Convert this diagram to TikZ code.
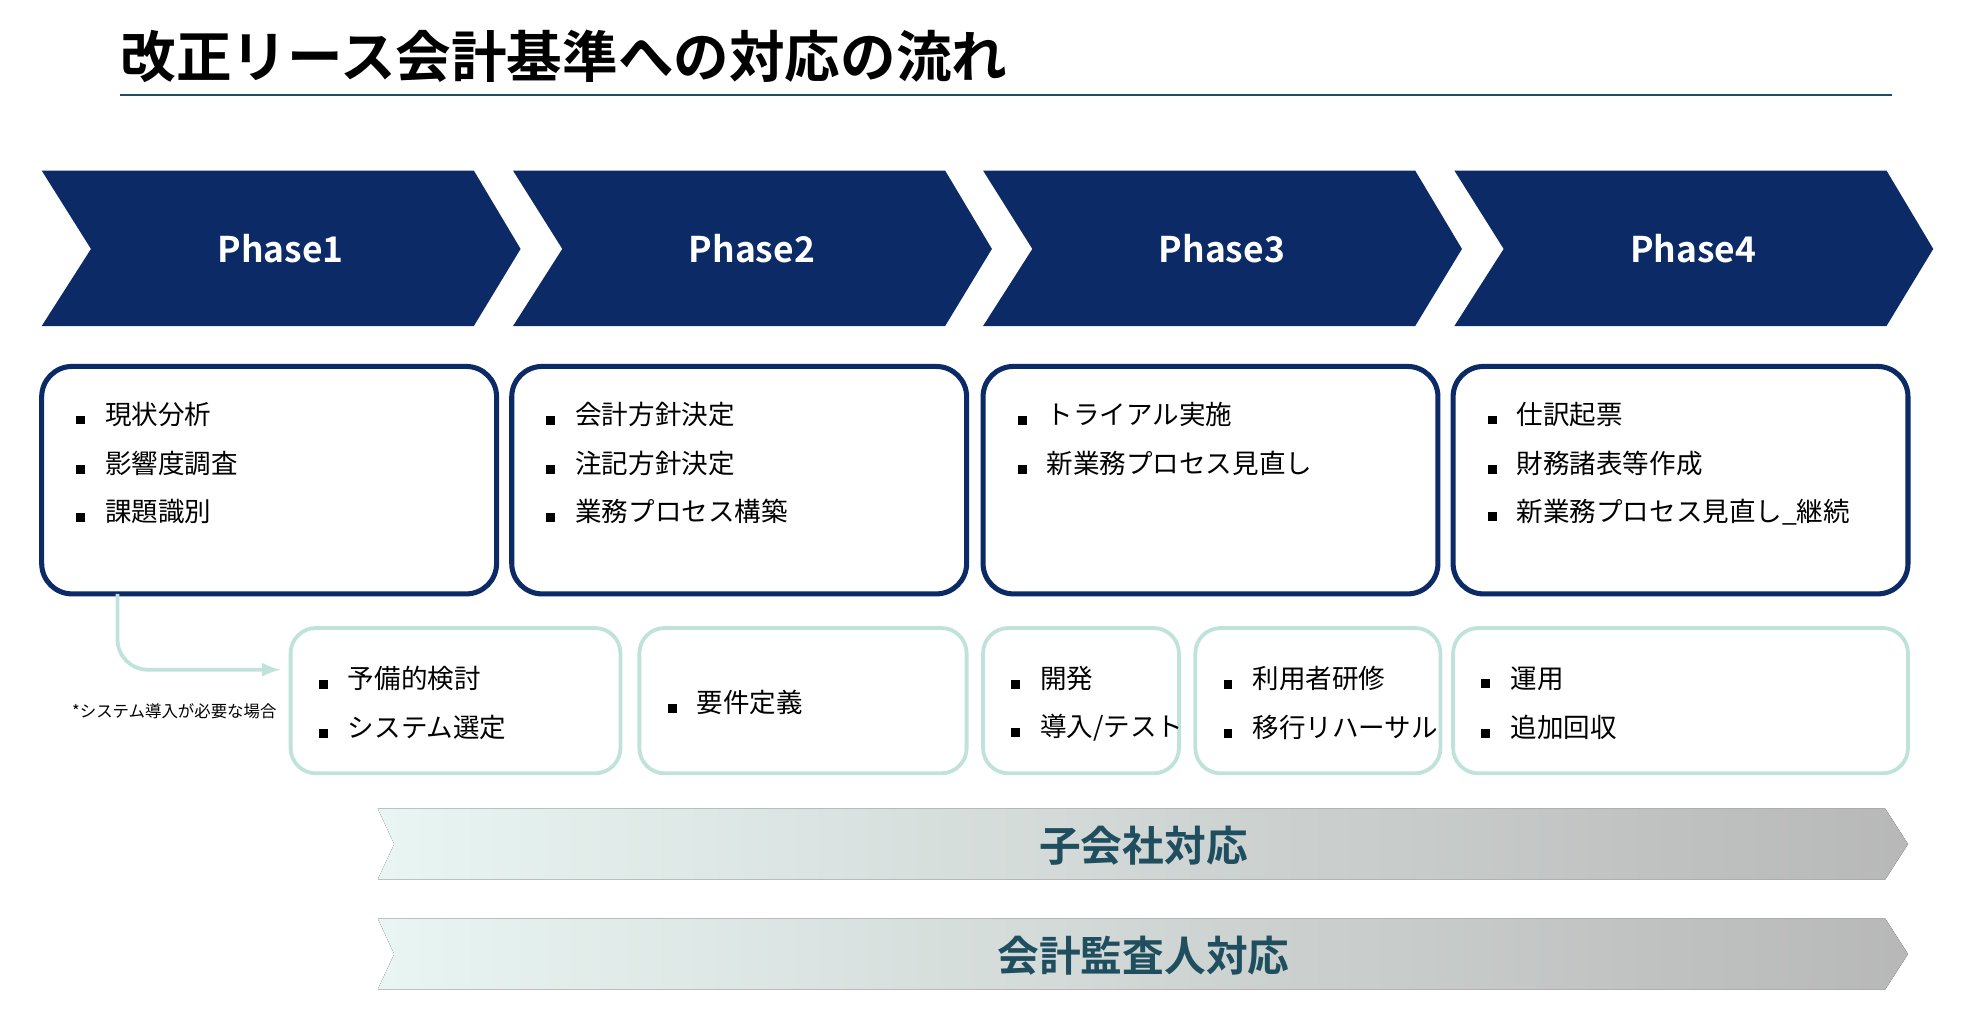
\documentclass[tikz,border=0pt]{standalone}
\usepackage{fontspec}
\setmainfont{Noto Sans CJK JP}[BoldFont={* Bold}]
\usetikzlibrary{positioning}
\definecolor{navy}{HTML}{0B2A66}
\definecolor{mint}{HTML}{BFE3DA}
\definecolor{teal}{HTML}{1F4E5F}
\tikzset{
  phase/.style={fill=navy,draw=none},
  mainbox/.style={draw=navy,line width=2pt,rounded corners=12pt,fill=white},
  subbox/.style={draw=mint,line width=1.5pt,rounded corners=10pt,fill=white},
  item/.style={anchor=west,font=\fontsize{10.5}{12}\selectfont,inner sep=0pt},
  banner/.style={left color=mint!35,right color=black!28,draw=none},
}
\newcommand{\sq}{\rule{3.5pt}{3.5pt}\hspace{8pt}}
\begin{document}
\begin{tikzpicture}[x=0.5pt,y=-0.5pt]
\useasboundingbox (0,0) rectangle (1567,800);

% title
\node[anchor=west,font=\bfseries\fontsize{22}{24}\selectfont,inner sep=0pt] (title) at (95,45) {改正リース会計基準への対応の流れ};
\draw[teal,line width=1pt] (95,75) -- (1497,75);

% phases
\foreach \i/\x in {1/33,2/406,3/778,4/1151}{
  \fill[phase] (\x,135) -- (\x+342,135) -- (\x+379,197) -- (\x+342,258) -- (\x,258) -- (\x+39,197) -- cycle;
  \node[white,font=\bfseries\fontsize{14}{16}\selectfont] (ph\i) at (\x+189,197) {Phase\i};
}

% main boxes
\foreach \i/\x in {1/33,2/405,3/778,4/1150}
  \draw[mainbox] (\x,290) rectangle (\x+360,470);

\node[item] (a1) at (60,328) {\sq 現状分析};
\node[item] (a2) at (60,367) {\sq 影響度調査};
\node[item] (a3) at (60,405) {\sq 課題識別};
\node[item] (b1) at (432,328) {\sq 会計方針決定};
\node[item] (b2) at (432,367) {\sq 注記方針決定};
\node[item] (b3) at (432,405) {\sq 業務プロセス構築};
\node[item] (c1) at (805,328) {\sq トライアル実施};
\node[item] (c2) at (805,367) {\sq 新業務プロセス見直し};
\node[item] (d1) at (1177,328) {\sq 仕訳起票};
\node[item] (d2) at (1177,367) {\sq 財務諸表等作成};
\node[item] (d3) at (1177,405) {\sq 新業務プロセス見直し\_継続};

% sub boxes
\draw[subbox] (230,497) rectangle (491,612);
\draw[subbox] (506,497) rectangle (765,612);
\draw[subbox] (778,497) rectangle (933,612);
\draw[subbox] (946,497) rectangle (1140,612);
\draw[subbox] (1150,497) rectangle (1510,612);

\node[item] (s1) at (252,537) {\sq 予備的検討};
\node[item] (s2) at (252,576) {\sq システム選定};
\node[item] (r1) at (528,556) {\sq 要件定義};
\node[item] (t1) at (800,537) {\sq 開発};
\node[item] (t2) at (800,576) {\sq 導入/テスト};
\node[item] (u1) at (968,537) {\sq 利用者研修};
\node[item] (u2) at (968,576) {\sq 移行リハーサル};
\node[item] (v1) at (1172,537) {\sq 運用};
\node[item] (v2) at (1172,576) {\sq 追加回収};

% optional path
\coordinate (from) at (93,470);
\coordinate (to) at (222,530);
\draw[mint,line width=1.5pt,rounded corners=12pt,-latex] (from) |- (to);
\node[font=\fontsize{6.5}{8}\selectfont] (note) at (138,563) {*システム導入が必要な場合};

% banners
\foreach \y/\t in {640/子会社対応,727/会計監査人対応}{
  \fill[banner] (299,\y) -- (1492,\y) -- (1510,\y+28) -- (1492,\y+56) -- (299,\y+56) -- (312,\y+28) -- cycle;
  \node[teal,font=\bfseries\fontsize{16.5}{18}\selectfont] at (905,\y+29) {\t};
}
\end{tikzpicture}
\end{document}
